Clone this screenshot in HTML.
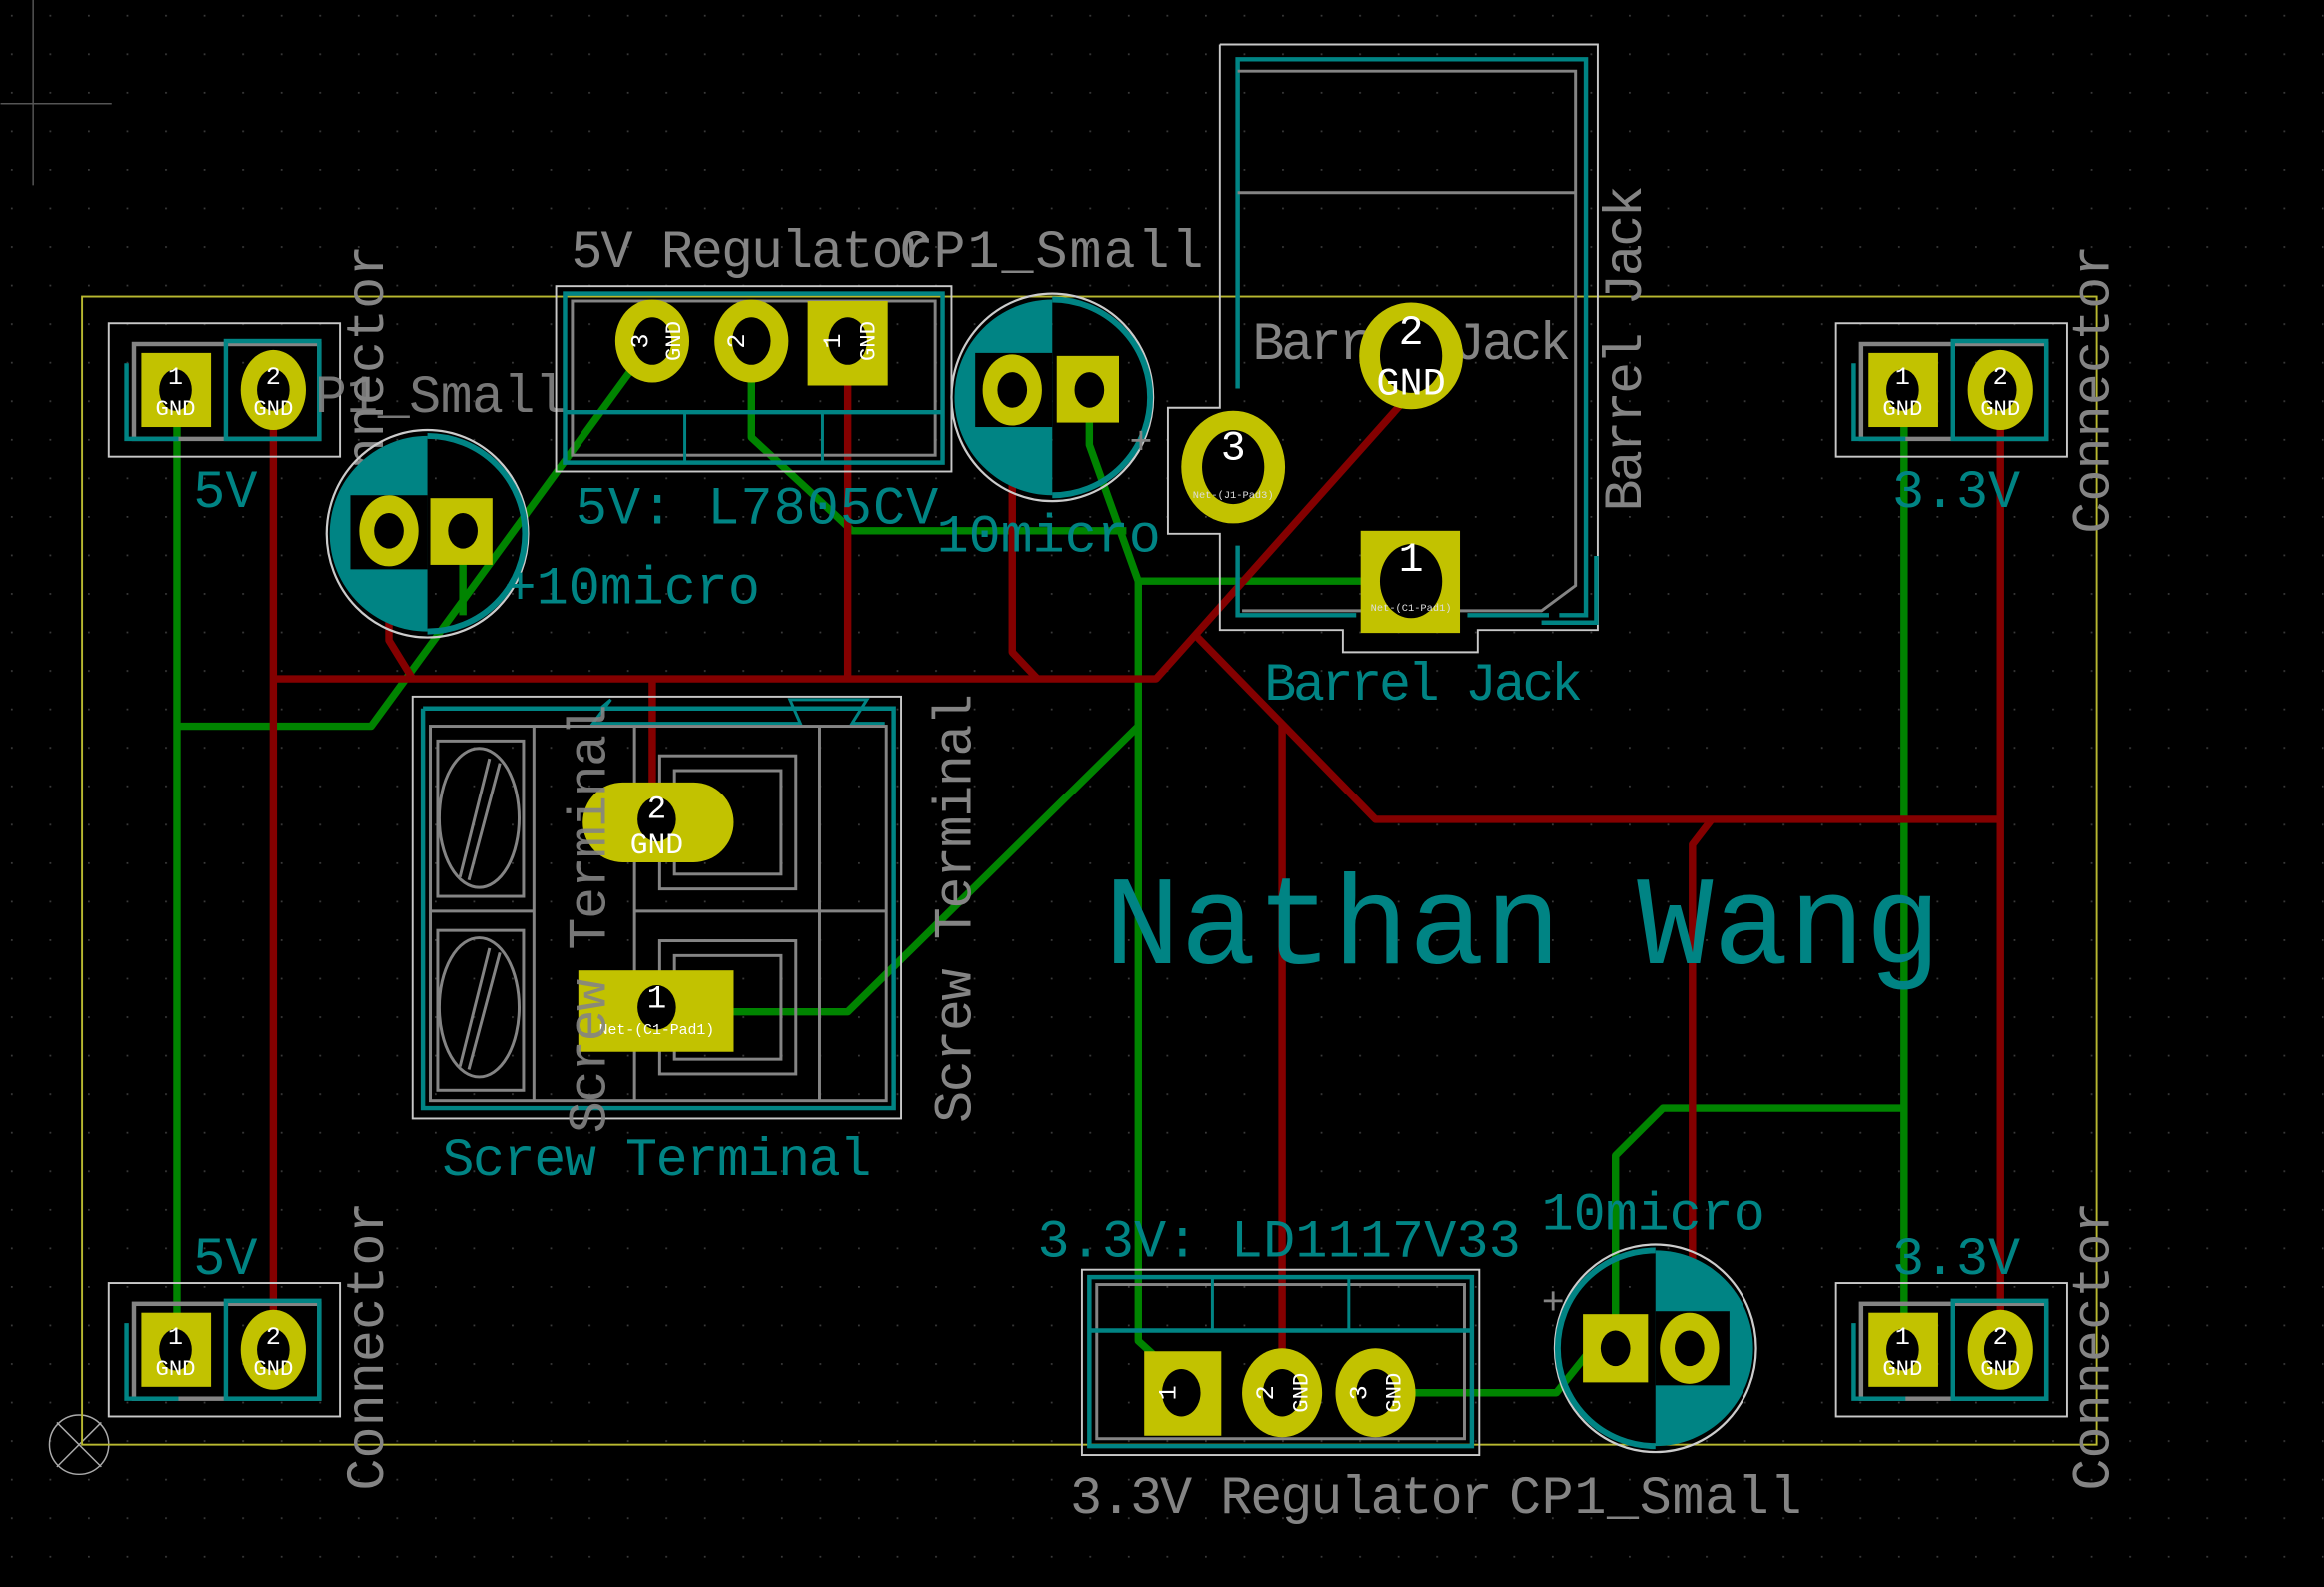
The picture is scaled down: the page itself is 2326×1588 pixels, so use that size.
<!DOCTYPE html>
<html><head><meta charset="utf-8"><style>
html,body{margin:0;padding:0;background:#000;}
svg{display:block}
text{font-family:"Liberation Mono","DejaVu Sans Mono",monospace;}
</style></head><body>
<svg width="2326" height="1588" viewBox="0 0 1568 1071" xmlns="http://www.w3.org/2000/svg">
<defs>
<pattern id="g" width="26" height="26" patternUnits="userSpaceOnUse" x="7" y="10"><rect x="0" y="0" width="1.2" height="1.2" fill="#3a3a3a"/></pattern>
</defs>
<rect width="1568" height="1071" fill="#000"/>
<rect width="1568" height="1071" fill="url(#g)"/>
<!-- crosshair -->
<line x1="22" y1="0" x2="22" y2="125" stroke="#555" stroke-width="1"/>
<line x1="0" y1="70" x2="75" y2="70" stroke="#555" stroke-width="1"/>
<circle cx="53" cy="975" r="20" fill="none" stroke="#aaa" stroke-width="1"/>
<line x1="38" y1="960" x2="68" y2="990" stroke="#aaa"/><line x1="68" y1="960" x2="38" y2="990" stroke="#aaa"/>
<!-- board outline -->
<rect x="55" y="200" width="1360" height="775" fill="none" stroke="#b8b830" stroke-width="1.3"/>

<!-- GREEN traces -->
<g stroke="#008400" stroke-width="5" fill="none" stroke-linejoin="round">
<polyline points="119,262 119,910"/>
<polyline points="119,490 250,490 440,230"/>
<polyline points="312,358 312,415"/>
<polyline points="507,230 507,295 545,330 575,358 760,358"/>
<polyline points="735,262 735,300 768,392 950,392"/>
<polyline points="768,392 768,905 790,925"/>
<polyline points="768,490 572,683 443,683"/>
<polyline points="1285,262 1285,910"/>
<polyline points="1285,748 1122,748 1090,780 1090,910"/>
<polyline points="928,940 1050,940 1070,915 1090,910"/>
</g>
<!-- RED traces -->
<g stroke="#840000" stroke-width="5" fill="none" stroke-linejoin="round">
<polyline points="184,262 184,910"/>
<polyline points="184,458 780,458 952,265"/>
<polyline points="262,358 262,432 278,458"/>
<polyline points="572,230 572,458"/>
<polyline points="440,458 440,555"/>
<polyline points="683,262 683,440 700,458"/>
<polyline points="808,430 928,553 1350,553"/>
<polyline points="1350,262 1350,910"/>
<polyline points="1155,553 1142,570 1142,910"/>
<polyline points="865,488 865,940"/>
</g>

<!-- ===== Connectors ===== -->
<g id="conn">
<rect x="73" y="218" width="156" height="90" fill="none" stroke="#c8c8c8" stroke-width="1.3"/>
<rect x="90" y="232" width="125" height="64" fill="none" stroke="#848484" stroke-width="3"/>
<rect x="152" y="230" width="63" height="66" fill="none" stroke="#008484" stroke-width="3"/>
<polyline points="85,245 85,296 120,296" fill="none" stroke="#008484" stroke-width="3"/>
<rect x="95" y="238" width="47" height="50" fill="#c2c200"/>
<ellipse cx="118" cy="263" rx="11" ry="14" fill="#000"/>
<ellipse cx="184" cy="263" rx="22" ry="27" fill="#c2c200"/>
<ellipse cx="184" cy="263" rx="11" ry="14" fill="#000"/>
<text x="118" y="259" fill="#fff" font-size="17" text-anchor="middle">1</text>
<text x="118" y="280" fill="#fff" font-size="15" text-anchor="middle">GND</text>
<text x="184" y="259" fill="#fff" font-size="17" text-anchor="middle">2</text>
<text x="184" y="280" fill="#fff" font-size="15" text-anchor="middle">GND</text>
</g>
<use href="#conn" transform="translate(1166,0)"/>
<use href="#conn" transform="translate(0,648)"/>
<use href="#conn" transform="translate(1166,648)"/>
<g fill="#008484" font-size="36">
<text x="130" y="342">5V</text>
<text x="130" y="860">5V</text>
<text x="1277" y="342">3.3V</text>
<text x="1277" y="860">3.3V</text>
</g>
<g fill="#848484" font-size="36">
<text transform="translate(258,360) rotate(-90)" textLength="195">Connector</text>
<text transform="translate(258,1006) rotate(-90)" textLength="195">Connector</text>
<text transform="translate(1423,360) rotate(-90)" textLength="195">Connector</text>
<text transform="translate(1423,1006) rotate(-90)" textLength="195">Connector</text>
<text x="212" y="278" opacity="0.9" textLength="170">P1_Small</text>
</g>

<!-- ===== left cap ===== -->
<g>
<ellipse cx="288" cy="360" rx="68" ry="70" fill="none" stroke="#ccc" stroke-width="1.5"/>
<path d="M288,294 A66,66 0 0 0 288,426 Z" fill="#008484"/>
<path d="M288,294 A66,66 0 0 1 288,426" fill="none" stroke="#008484" stroke-width="4"/>
<rect x="236" y="334" width="52" height="50" fill="#000"/>
<ellipse cx="262" cy="358" rx="20" ry="24" fill="#c2c200"/><ellipse cx="262" cy="358" rx="10" ry="12" fill="#000"/>
<rect x="290" y="336" width="42" height="45" fill="#c2c200"/><ellipse cx="312" cy="358" rx="10" ry="12" fill="#000"/>
<text x="340" y="407" fill="#008484" font-size="36">+10micro</text>
</g>
<!-- ===== top cap ===== -->
<g>
<ellipse cx="710" cy="268" rx="68" ry="70" fill="none" stroke="#ccc" stroke-width="1.5"/>
<path d="M710,202 A66,66 0 0 0 710,334 Z" fill="#008484"/>
<path d="M710,202 A66,66 0 0 1 710,334" fill="none" stroke="#008484" stroke-width="4"/>
<rect x="658" y="238" width="52" height="50" fill="#000"/>
<ellipse cx="683" cy="263" rx="20" ry="24" fill="#c2c200"/><ellipse cx="683" cy="263" rx="10" ry="12" fill="#000"/>
<rect x="713" y="240" width="42" height="45" fill="#c2c200"/><ellipse cx="735" cy="263" rx="10" ry="12" fill="#000"/>
<text x="632" y="372" fill="#008484" font-size="36">10micro</text>
<text x="762" y="306" fill="#848484" font-size="26">+</text>
</g>
<!-- ===== bottom cap ===== -->
<g>
<ellipse cx="1117" cy="910" rx="68" ry="70" fill="none" stroke="#ccc" stroke-width="1.5"/>
<path d="M1117,844 A66,66 0 0 1 1117,976 Z" fill="#008484"/>
<path d="M1117,844 A66,66 0 0 0 1117,976" fill="none" stroke="#008484" stroke-width="4"/>
<rect x="1117" y="885" width="50" height="50" fill="#000"/>
<rect x="1068" y="887" width="44" height="46" fill="#c2c200"/><ellipse cx="1090" cy="910" rx="10" ry="12" fill="#000"/>
<ellipse cx="1140" cy="910" rx="20" ry="24" fill="#c2c200"/><ellipse cx="1140" cy="910" rx="10" ry="12" fill="#000"/>
<text x="1040" y="830" fill="#008484" font-size="36">10micro</text>
<text x="1040" y="887" fill="#848484" font-size="26">+</text>
</g>

<!-- ===== 5V regulator ===== -->
<g>
<rect x="375" y="193" width="267" height="125" fill="none" stroke="#c8c8c8" stroke-width="1.3"/>
<rect x="381" y="198" width="255" height="114" fill="none" stroke="#008484" stroke-width="3"/>
<rect x="386" y="203" width="245" height="104" fill="none" stroke="#848484" stroke-width="2"/>
<line x1="381" y1="278" x2="636" y2="278" stroke="#008484" stroke-width="3"/>
<line x1="462" y1="278" x2="462" y2="312" stroke="#008484" stroke-width="2"/>
<line x1="555" y1="278" x2="555" y2="312" stroke="#008484" stroke-width="2"/>
<ellipse cx="440" cy="230" rx="25" ry="28" fill="#c2c200"/><ellipse cx="440" cy="230" rx="13" ry="16" fill="#000"/>
<ellipse cx="507" cy="230" rx="25" ry="28" fill="#c2c200"/><ellipse cx="507" cy="230" rx="13" ry="16" fill="#000"/>
<rect x="545" y="203" width="54" height="57" fill="#c2c200"/><ellipse cx="572" cy="230" rx="13" ry="16" fill="#000"/>
<text transform="translate(437,230) rotate(-90)" fill="#fff" font-size="17" text-anchor="middle">3</text>
<text transform="translate(459,230) rotate(-90)" fill="#fff" font-size="15" text-anchor="middle">GND</text>
<text transform="translate(502,230) rotate(-90)" fill="#fff" font-size="17" text-anchor="middle">2</text>
<text transform="translate(567,230) rotate(-90)" fill="#fff" font-size="17" text-anchor="middle">1</text>
<text transform="translate(590,230) rotate(-90)" fill="#fff" font-size="15" text-anchor="middle">GND</text>
<text x="385" y="180" fill="#848484" font-size="36" textLength="245">5V Regulator</text>
<text x="607" y="180" fill="#848484" font-size="36" textLength="205">CP1_Small</text>
<text x="388" y="353" fill="#008484" font-size="36" textLength="245">5V: L7805CV</text>
</g>

<!-- ===== Barrel jack ===== -->
<g>
<polyline points="823,30 1078,30 1078,425 997,425 997,440 906,440 906,425 823,425 823,360 788,360 788,275 823,275 823,30" fill="none" stroke="#c8c8c8" stroke-width="1.3"/>
<polyline points="835,262 835,40 1070,40 1070,415 1052,415" fill="none" stroke="#008484" stroke-width="3"/>
<polyline points="835,368 835,415 915,415" fill="none" stroke="#008484" stroke-width="3"/>
<line x1="990" y1="415" x2="1045" y2="415" stroke="#008484" stroke-width="3"/>
<polyline points="1077,375 1077,420 1040,420" fill="none" stroke="#008484" stroke-width="3"/>
<polyline points="835,48 1063,48 1063,395 1040,412 838,412" fill="none" stroke="#848484" stroke-width="2"/>
<line x1="835" y1="130" x2="1063" y2="130" stroke="#848484" stroke-width="2"/>
<text x="845" y="242" fill="#848484" font-size="36" textLength="215">Barrel Jack</text>
<ellipse cx="952" cy="240" rx="35" ry="36" fill="#c2c200"/><ellipse cx="952" cy="240" rx="21" ry="25" fill="#000"/>
<text x="952" y="232" fill="#fff" font-size="28" text-anchor="middle">2</text>
<text x="952" y="266" fill="#fff" font-size="26" text-anchor="middle">GND</text>
<ellipse cx="832" cy="315" rx="35" ry="38" fill="#c2c200"/><ellipse cx="832" cy="315" rx="21" ry="25" fill="#000"/>
<text x="832" y="310" fill="#fff" font-size="28" text-anchor="middle">3</text>
<text x="832" y="336" fill="#ddd" font-size="7" text-anchor="middle">Net-(J1-Pad3)</text>
<rect x="918" y="358" width="67" height="69" fill="#c2c200"/><ellipse cx="952" cy="392" rx="21" ry="25" fill="#000"/>
<text x="952" y="385" fill="#fff" font-size="28" text-anchor="middle">1</text>
<text x="952" y="412" fill="#ddd" font-size="7" text-anchor="middle">Net-(C1-Pad1)</text>
<text transform="translate(1107,345) rotate(-90)" fill="#848484" font-size="36" textLength="220">Barrel Jack</text>
<text x="853" y="472" fill="#008484" font-size="36" textLength="215">Barrel Jack</text>
</g>

<!-- ===== Screw terminal ===== -->
<g>
<rect x="278" y="470" width="330" height="285" fill="none" stroke="#c8c8c8" stroke-width="1.3"/>
<polyline points="285,478 603,478 603,748 285,748 285,478" fill="none" stroke="#008484" stroke-width="3"/>
<polyline points="405,478 412,472 400,488 540,488 533,472 585,472 575,488 597,488" fill="none" stroke="#008484" stroke-width="2"/>
<rect x="290" y="490" width="308" height="253" fill="none" stroke="#848484" stroke-width="2"/>
<line x1="360" y1="490" x2="360" y2="743" stroke="#848484" stroke-width="2"/>
<line x1="428" y1="490" x2="428" y2="743" stroke="#848484" stroke-width="2"/>
<line x1="553" y1="490" x2="553" y2="743" stroke="#848484" stroke-width="2"/>
<line x1="290" y1="615" x2="360" y2="615" stroke="#848484" stroke-width="2"/>
<line x1="428" y1="615" x2="598" y2="615" stroke="#848484" stroke-width="2"/>
<rect x="295" y="500" width="58" height="105" fill="none" stroke="#848484" stroke-width="2"/>
<rect x="295" y="628" width="58" height="108" fill="none" stroke="#848484" stroke-width="2"/>
<ellipse cx="323" cy="552" rx="27" ry="47" fill="none" stroke="#848484" stroke-width="2"/>
<ellipse cx="323" cy="680" rx="27" ry="47" fill="none" stroke="#848484" stroke-width="2"/>
<line x1="310" y1="592" x2="330" y2="512" stroke="#848484" stroke-width="2"/><line x1="316" y1="594" x2="337" y2="515" stroke="#848484" stroke-width="2"/>
<line x1="310" y1="720" x2="330" y2="640" stroke="#848484" stroke-width="2"/><line x1="316" y1="722" x2="337" y2="643" stroke="#848484" stroke-width="2"/>
<rect x="445" y="510" width="92" height="90" fill="none" stroke="#848484" stroke-width="2"/>
<rect x="455" y="520" width="72" height="70" fill="none" stroke="#848484" stroke-width="2"/>
<rect x="445" y="635" width="92" height="90" fill="none" stroke="#848484" stroke-width="2"/>
<rect x="455" y="645" width="72" height="70" fill="none" stroke="#848484" stroke-width="2"/>
<rect x="393" y="528" width="102" height="54" rx="27" fill="#c2c200"/><ellipse cx="443" cy="553" rx="13" ry="15" fill="#000"/>
<text x="443" y="552" fill="#fff" font-size="22" text-anchor="middle">2</text>
<text x="443" y="576" fill="#fff" font-size="20" text-anchor="middle">GND</text>
<rect x="390" y="655" width="105" height="55" fill="#c2c200"/><ellipse cx="443" cy="680" rx="13" ry="15" fill="#000"/>
<text x="443" y="680" fill="#fff" font-size="22" text-anchor="middle">1</text>
<text x="443" y="698" fill="#fff" font-size="10" text-anchor="middle">Net-(C1-Pad1)</text>
<text transform="translate(408,765) rotate(-90)" fill="#848484" font-size="36" textLength="290" opacity="0.9">Screw Terminal</text>
<text transform="translate(655,758) rotate(-90)" fill="#848484" font-size="36" textLength="290">Screw Terminal</text>
<text x="298" y="793" fill="#008484" font-size="36" textLength="290">Screw Terminal</text>
</g>

<!-- Name -->
<text x="745" y="650" fill="#008484" font-size="86" textLength="565" lengthAdjust="spacingAndGlyphs">Nathan Wang</text>

<!-- ===== 3.3V regulator ===== -->
<g>
<rect x="730" y="857" width="268" height="125" fill="none" stroke="#c8c8c8" stroke-width="1.3"/>
<rect x="735" y="862" width="258" height="114" fill="none" stroke="#008484" stroke-width="3"/>
<rect x="740" y="867" width="248" height="104" fill="none" stroke="#848484" stroke-width="2"/>
<line x1="735" y1="898" x2="993" y2="898" stroke="#008484" stroke-width="3"/>
<line x1="818" y1="862" x2="818" y2="898" stroke="#008484" stroke-width="2"/>
<line x1="910" y1="862" x2="910" y2="898" stroke="#008484" stroke-width="2"/>
<rect x="772" y="912" width="52" height="57" fill="#c2c200"/><ellipse cx="797" cy="940" rx="13" ry="16" fill="#000"/>
<ellipse cx="865" cy="940" rx="27" ry="30" fill="#c2c200"/><ellipse cx="865" cy="940" rx="13" ry="16" fill="#000"/>
<ellipse cx="928" cy="940" rx="27" ry="30" fill="#c2c200"/><ellipse cx="928" cy="940" rx="13" ry="16" fill="#000"/>
<text transform="translate(793,940) rotate(-90)" fill="#fff" font-size="17" text-anchor="middle">1</text>
<text transform="translate(859,940) rotate(-90)" fill="#fff" font-size="17" text-anchor="middle">2</text>
<text transform="translate(882,940) rotate(-90)" fill="#fff" font-size="15" text-anchor="middle">GND</text>
<text transform="translate(922,940) rotate(-90)" fill="#fff" font-size="17" text-anchor="middle">3</text>
<text transform="translate(945,940) rotate(-90)" fill="#fff" font-size="15" text-anchor="middle">GND</text>
<text x="700" y="848" fill="#008484" font-size="36" textLength="326">3.3V: LD1117V33</text>
<text x="722" y="1021" fill="#848484" font-size="36" textLength="285">3.3V Regulator</text>
<text x="1018" y="1021" fill="#848484" font-size="36" textLength="198">CP1_Small</text>
</g>
</svg>
</body></html>
